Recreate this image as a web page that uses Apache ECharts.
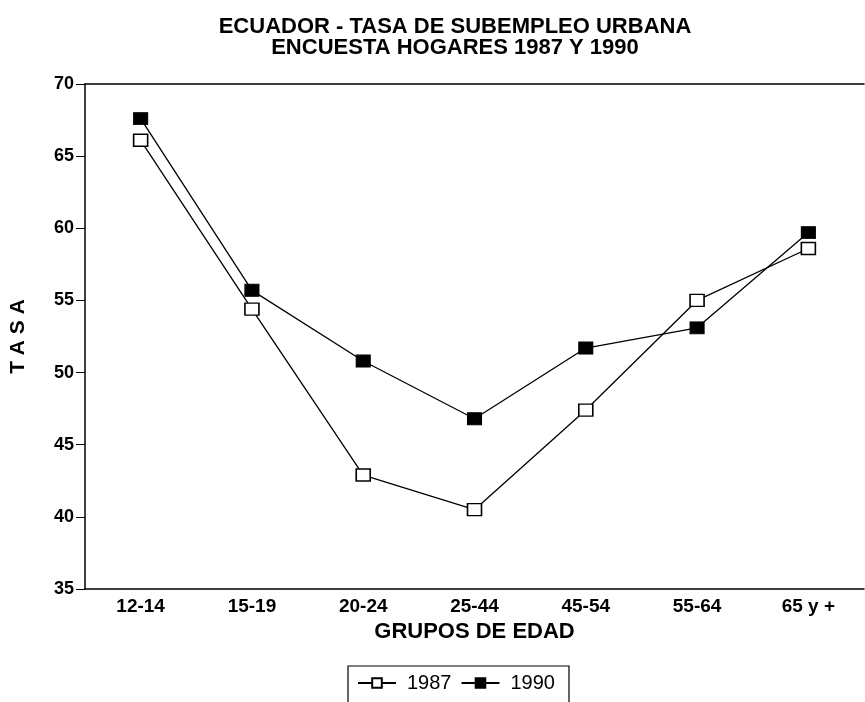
<!DOCTYPE html>
<html>
<head>
<meta charset="utf-8">
<script src="https://cdn.jsdelivr.net/npm/echarts@6/dist/echarts.min.js"></script>
<style>
  html, body { margin: 0; padding: 0; background: #fff; }
  #chart { width: 865px; height: 702px; }
</style>
</head>
<body>
<div id="chart"></div>
<script>
// grupos de edad
var categories = ['12-14', '15-19', '20-24', '25-44', '45-54', '55-64', '65 y +'];
// tasa de subempleo urbana
var tasa1987 = [66.1, 54.4, 42.9, 40.5, 47.4, 55.0, 58.6];
var tasa1990 = [67.6, 55.7, 50.8, 46.8, 51.7, 53.1, 59.7];
var yTicks = [35, 40, 45, 50, 55, 60, 65, 70];

var fuente = '"Liberation Sans", Arial, sans-serif';
var chart = echarts.init(document.getElementById('chart'));

var option = {
    backgroundColor: '#fff',
    animation: false,
    title: {
        text: 'ECUADOR - TASA DE SUBEMPLEO URBANA\nENCUESTA HOGARES 1987 Y 1990',
        left: 450,
        top: 11,
        textAlign: 'center',
        textStyle: {
            fontFamily: fuente,
            fontWeight: 'bold',
            fontSize: 22,
            lineHeight: 21,
            color: '#000'
        }
    },
    legend: {
        left: 348,
        top: 666,
        padding: [7, 14, 30, 9],
        borderColor: '#000',
        borderWidth: 1.2,
        itemWidth: 38,
        itemHeight: 12,
        itemGap: 9,
        textStyle: { fontFamily: fuente, fontSize: 20, color: '#000', padding: [0, 0, 0, 6] },
        data: ['1987', '1990']
    },
    grid: {
        left: 85,
        right: 1,
        top: 84,
        bottom: 113
    },
    xAxis: [{
        type: 'category',
        data: categories,
        name: 'GRUPOS DE EDAD',
        nameLocation: 'middle',
        nameGap: 28,
        nameTextStyle: { fontFamily: fuente, fontWeight: 'bold', fontSize: 22, color: '#000' },
        axisLine: { lineStyle: { color: '#000', width: 1.5 } },
        axisTick: { alignWithLabel: true, length: 7, lineStyle: { color: '#000' } },
        axisLabel: { margin: 8, fontFamily: fuente, fontWeight: 'bold', fontSize: 19, color: '#000' }
    }, {
        type: 'category',
        data: categories,
        position: 'top',
        axisLine: { lineStyle: { color: '#000', width: 1.5 } },
        axisTick: { show: false },
        axisLabel: { show: false }
    }],
    yAxis: {
        type: 'value',
        min: yTicks[0],
        max: yTicks[yTicks.length - 1],
        interval: 5,
        name: 'T A S A',
        nameLocation: 'middle',
        nameGap: 56,
        nameTextStyle: { fontFamily: fuente, fontWeight: 'bold', fontSize: 21, color: '#000' },
        axisLine: { show: true, lineStyle: { color: '#000', width: 1.5 } },
        axisTick: { show: true, length: 9, lineStyle: { color: '#000' } },
        axisLabel: { margin: 11, fontFamily: fuente, fontWeight: 'bold', fontSize: 18, color: '#000' },
        splitLine: { show: false }
    },
    series: [
        {
            name: '1987',
            type: 'line',
            data: tasa1987,
            symbol: 'rect',
            symbolSize: [14, 12],
            itemStyle: { color: '#fff', borderColor: '#000', borderWidth: 1.5 },
            lineStyle: { color: '#000', width: 1.3 },
            z: 3
        },
        {
            name: '1990',
            type: 'line',
            data: tasa1990,
            symbol: 'rect',
            symbolSize: [14, 12],
            itemStyle: { color: '#000', borderColor: '#000', borderWidth: 1 },
            lineStyle: { color: '#000', width: 1.3 },
            z: 2
        }
    ]
};

chart.setOption(option);
</script>
</body>
</html>
